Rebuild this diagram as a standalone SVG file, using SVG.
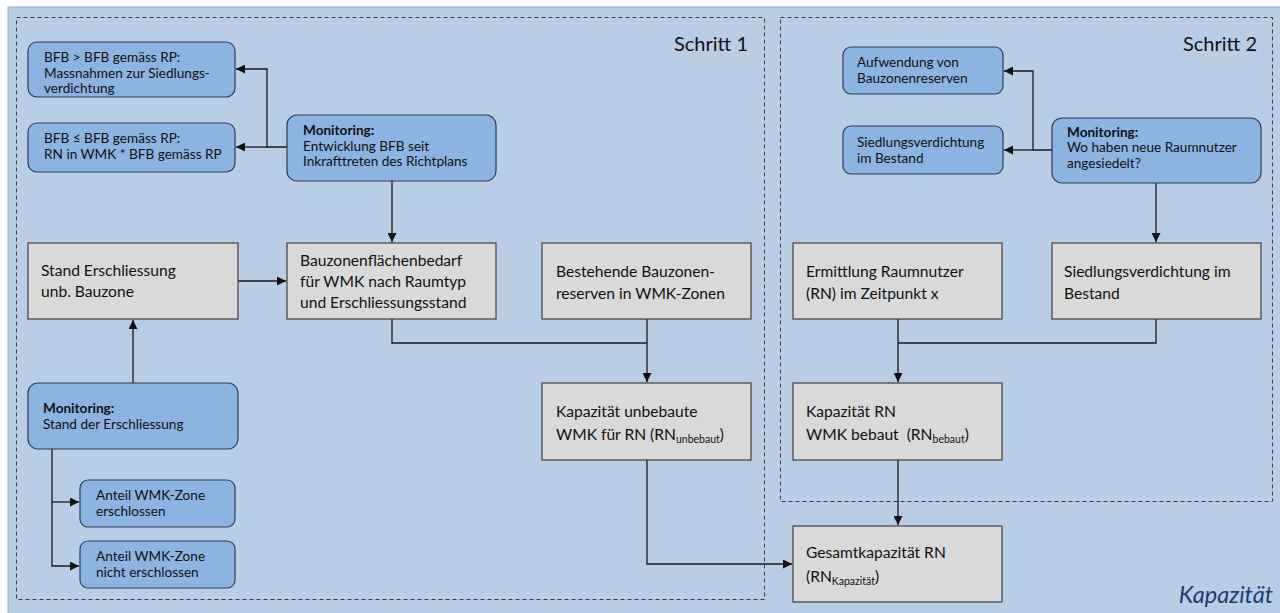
<svg xmlns="http://www.w3.org/2000/svg" width="1280" height="613" viewBox="0 0 1280 613">
<defs>
<marker id="ah" viewBox="0 0 10 10" refX="10" refY="5" markerWidth="10" markerHeight="9" markerUnits="userSpaceOnUse" orient="auto">
<path d="M0,0 L10,5 L0,10 z" fill="#111"/>
</marker>
<style>
.bg{fill:#b9cde5;stroke:#8eaed6;stroke-width:1}
.frame{fill:none;stroke:#3a3a3a;stroke-width:1;stroke-dasharray:4,3}
.blue{fill:#8db3e2;stroke:#2f3d52;stroke-width:1.2}
.gray{fill:#d9d9d9;stroke:#3f3f3f;stroke-width:1.2}
.t{font-family:Lato,"Liberation Sans",sans-serif;fill:#111}
.s{font-size:13.6px}
.m{font-size:15.6px}
.b{font-weight:bold}
.step{font-family:Lato,"Liberation Sans",sans-serif;font-size:20px;fill:#111;text-anchor:end}
.con{fill:none;stroke:#1a1a1a;stroke-width:1.3}
.sub{font-size:10.5px}
</style>
</defs>
<rect class="bg" x="8" y="7" width="1280" height="620"/>
<g id="schritt1">
<rect class="frame" x="16.5" y="17.5" width="748" height="582"/>
<text class="step" x="748" y="51">Schritt 1</text>
</g>
<g id="schritt2">
<rect class="frame" x="780.5" y="17.5" width="492" height="484"/>
<text class="step" x="1257" y="51">Schritt 2</text>
</g>
<g id="connectors">
<path class="con" d="M287,147 H267 V69 H236" marker-end="url(#ah)"/>
<path class="con" d="M267,147 H236" marker-end="url(#ah)"/>
<path class="con" d="M392,181 V242" marker-end="url(#ah)"/>
<path class="con" d="M238,281 H286" marker-end="url(#ah)"/>
<path class="con" d="M133,383 V320" marker-end="url(#ah)"/>
<path class="con" d="M52,449 V566 H79" marker-end="url(#ah)"/>
<path class="con" d="M52,502 H79" marker-end="url(#ah)"/>
<path class="con" d="M392,319 V343 H647"/>
<path class="con" d="M647,319 V382" marker-end="url(#ah)"/>
<path class="con" d="M647,460 V564 H792" marker-end="url(#ah)"/>
<path class="con" d="M1052,150 H1033 V71 H1004" marker-end="url(#ah)"/>
<path class="con" d="M1033,150 H1004" marker-end="url(#ah)"/>
<path class="con" d="M1156,183 V242" marker-end="url(#ah)"/>
<path class="con" d="M1156,319 V343 H898"/>
<path class="con" d="M898,319 V382" marker-end="url(#ah)"/>
<path class="con" d="M898,460 V525" marker-end="url(#ah)"/>
</g>
<g id="bfb-gt">
<rect class="blue" x="28" y="42" width="207" height="55" rx="9"/>
<text class="t s" x="44" y="62">BFB &gt; BFB gemäss RP:</text>
<text class="t s" x="44" y="77.5">Massnahmen zur Siedlungs-</text>
<text class="t s" x="44" y="93">verdichtung</text>
</g>
<g id="bfb-le">
<rect class="blue" x="28" y="123" width="207" height="49" rx="9"/>
<text class="t s" x="44" y="143">BFB ≤ BFB gemäss RP:</text>
<text class="t s" x="44" y="159">RN in WMK * BFB gemäss RP</text>
</g>
<g id="mon-bfb">
<rect class="blue" x="287" y="115" width="209" height="66" rx="10"/>
<text class="t s b" x="303" y="135">Monitoring:</text>
<text class="t s" x="303" y="150.5">Entwicklung BFB seit</text>
<text class="t s" x="303" y="166">Inkrafttreten des Richtplans</text>
</g>
<g id="stand-erschl">
<rect class="gray" x="28" y="243" width="210" height="76"/>
<text class="t m" x="41" y="276">Stand Erschliessung</text>
<text class="t m" x="41" y="297">unb. Bauzone</text>
</g>
<g id="bauzonenbedarf">
<rect class="gray" x="287" y="243" width="209" height="76"/>
<text class="t m" x="300" y="266">Bauzonenflächenbedarf</text>
<text class="t m" x="300" y="287">für WMK nach Raumtyp</text>
<text class="t m" x="300" y="308">und Erschliessungsstand</text>
</g>
<g id="reserven">
<rect class="gray" x="542" y="243" width="209" height="76"/>
<text class="t m" x="556" y="277">Bestehende Bauzonen-</text>
<text class="t m" x="556" y="298.5">reserven in WMK-Zonen</text>
</g>
<g id="kap-unbebaut">
<rect class="gray" x="542" y="383" width="209" height="77"/>
<text class="t m" x="556" y="417">Kapazität unbebaute</text>
<text class="t m" x="556" y="440">WMK für RN (RN<tspan class="sub" dy="3">unbebaut</tspan><tspan dy="-3">)</tspan></text>
</g>
<g id="mon-erschl">
<rect class="blue" x="28" y="383" width="210" height="66" rx="10"/>
<text class="t s b" x="43" y="413">Monitoring:</text>
<text class="t s" x="43" y="429">Stand der Erschliessung</text>
</g>
<g id="anteil-erschl">
<rect class="blue" x="80" y="480" width="155" height="47" rx="8"/>
<text class="t s" x="96" y="500">Anteil WMK-Zone</text>
<text class="t s" x="96" y="515.5">erschlossen</text>
</g>
<g id="anteil-nicht">
<rect class="blue" x="80" y="541" width="155" height="47" rx="8"/>
<text class="t s" x="96" y="561">Anteil WMK-Zone</text>
<text class="t s" x="96" y="577">nicht erschlossen</text>
</g>
<g id="aufwendung">
<rect class="blue" x="843" y="47" width="160" height="47" rx="8"/>
<text class="t s" x="857" y="67">Aufwendung von</text>
<text class="t s" x="857" y="83">Bauzonenreserven</text>
</g>
<g id="siedl-blue">
<rect class="blue" x="843" y="126" width="160" height="48" rx="8"/>
<text class="t s" x="857" y="147">Siedlungsverdichtung</text>
<text class="t s" x="857" y="163">im Bestand</text>
</g>
<g id="mon-raumnutzer">
<rect class="blue" x="1052" y="118" width="209" height="65" rx="10"/>
<text class="t s b" x="1067" y="137">Monitoring:</text>
<text class="t s" x="1067" y="152">Wo haben neue Raumnutzer</text>
<text class="t s" x="1067" y="167.5">angesiedelt?</text>
</g>
<g id="ermittlung">
<rect class="gray" x="793" y="243" width="209" height="76"/>
<text class="t m" x="806" y="277">Ermittlung Raumnutzer</text>
<text class="t m" x="806" y="298.5">(RN) im Zeitpunkt x</text>
</g>
<g id="siedl-gray">
<rect class="gray" x="1052" y="243" width="209" height="76"/>
<text class="t m" x="1064" y="277">Siedlungsverdichtung im</text>
<text class="t m" x="1064" y="298.5">Bestand</text>
</g>
<g id="kap-bebaut">
<rect class="gray" x="793" y="383" width="209" height="77"/>
<text class="t m" x="806" y="417">Kapazität RN</text>
<text class="t m" x="806" y="440" xml:space="preserve">WMK bebaut  (RN<tspan class="sub" dy="3">bebaut</tspan><tspan dy="-3">)</tspan></text>
</g>
<g id="gesamt">
<rect class="gray" x="793" y="526" width="209" height="76"/>
<text class="t m" x="806" y="558">Gesamtkapazität RN</text>
<text class="t m" x="806" y="582">(RN<tspan class="sub" dy="3">Kapazität</tspan><tspan dy="-3">)</tspan></text>
</g>
<g id="title">
<text x="1273" y="603" font-family="Lato,'Liberation Sans',sans-serif" font-style="italic" font-size="23.5" fill="#1f3d6e" text-anchor="end">Kapazität</text>
</g>
</svg>
